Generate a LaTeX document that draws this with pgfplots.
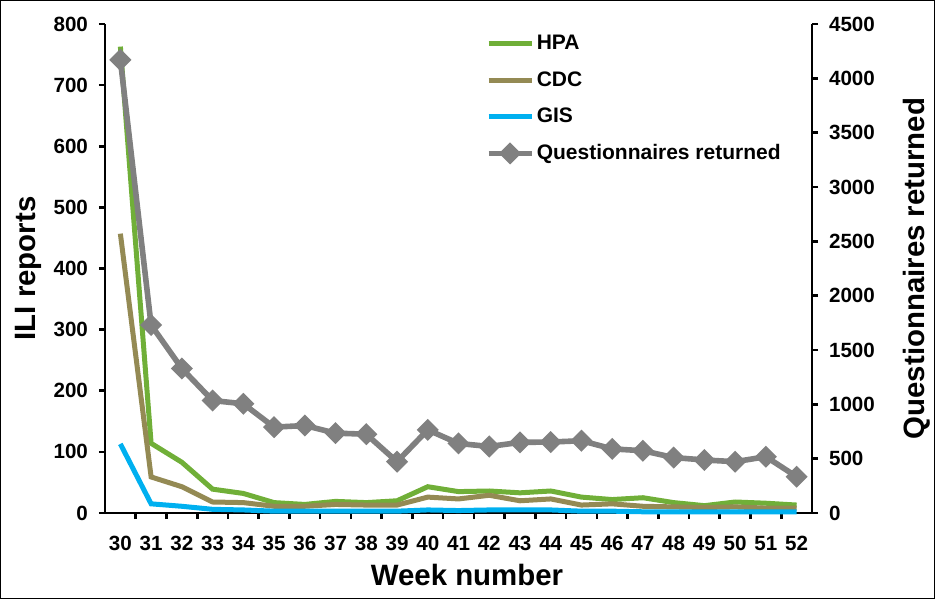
\documentclass[border=0pt]{standalone}
\usepackage{fontspec}
\setmainfont{Liberation Sans}
\usepackage{pgfplots}
\usepackage{pgfplotstable}
\pgfplotsset{compat=1.18}

\definecolor{hpa}{RGB}{112,175,56}
\definecolor{cdc}{RGB}{148,138,84}
\definecolor{gis}{RGB}{0,176,240}
\definecolor{qret}{RGB}{128,128,128}

% week, HPA, CDC, GIS
\pgfplotstableread{
week hpa cdc gis
30 763 457 113
31 114 59 15
32 83 43 11
33 39 18 6
34 32 17 5
35 17 11 3
36 14 11 3
37 19 14 3
38 17 13 3
39 20 13 3
40 43 26 5
41 35 23 4
42 36 29 5
43 33 20 5
44 36 23 5
45 26 13 3
46 22 15 3
47 25 11 2
48 17 10 2
49 12 9 2
50 18 10 2
51 16 8 2
52 13 8 2
}\ilidata

\pgfplotstableread{
week q
30 4170
31 1730
32 1330
33 1035
34 1005
35 790
36 805
37 735
38 725
39 472
40 765
41 640
42 612
43 650
44 653
45 665
46 590
47 573
48 510
49 488
50 472
51 518
52 334
}\qdata

\pgfplotsset{
  common/.style={
    scale only axis, width=353.5pt, height=244.5pt,
    at={(52.5pt,43pt)}, anchor=south west,
    xmin=29.5, xmax=52.5, clip=false,
    axis line style={line width=1.3pt, -},
    tick align=outside,
    tick style={line width=1.3pt, black},
    major tick length=3pt,
    tick label style={font=\bfseries\fontsize{10.3}{11}\selectfont},
    /pgf/number format/assume math mode=true,
    /pgf/number format/1000 sep={},
    label style={font=\bfseries\fontsize{14.7}{16}\selectfont},
    legend image code/.code={
      \draw[mark repeat=2,mark phase=2,#1] plot coordinates {(0pt,0pt)(10.75pt,0pt)(21.5pt,0pt)};
    },
  },
}

\begin{document}
\begin{tikzpicture}
\useasboundingbox (0,0) rectangle (467.5pt,299.5pt);
\draw[line width=0.7pt] (0.35pt,0.35pt) rectangle (467.15pt,299.15pt);

\begin{axis}[
  common,
  ymin=0, ymax=800,
  ytick={0,100,...,800},
  xtick={30,...,52},
  minor xtick={30.5,31.5,...,51.5},
  major x tick style={draw=none},
  minor tick length=3pt,
  minor x tick style={line width=1.3pt, black},
  axis y line*=left, axis x line*=bottom,
  yticklabel style={xshift=-2pt},
  xticklabel style={yshift=-5pt},
  xlabel={Week number},
  ylabel={ILI reports},
  xlabel style={at={(axis description cs:0.512,-0.127)}, anchor=center},
  ylabel style={at={(axis description cs:-0.109,0.5)}, anchor=center, rotate=0},
  legend style={at={(axis description cs:0.538,0.978)}, anchor=north west,
    draw=none, fill=none, font=\bfseries\fontsize{10.5}{12}\selectfont,
    row sep=9.4pt, inner sep=0pt,
    nodes={inner xsep=1.2pt, inner ysep=0pt}},
  legend cell align=left,
]
\addplot[hpa, line width=2.5pt, no marks] table[x=week, y=hpa] {\ilidata};
\addlegendentry{HPA}
\addplot[cdc, line width=2.5pt, no marks] table[x=week, y=cdc] {\ilidata};
\addlegendentry{CDC}
\addplot[gis, line width=2.5pt, no marks] table[x=week, y=gis] {\ilidata};
\addlegendentry{GIS}
\addlegendimage{qret, line width=2.8pt, mark=square*, mark size=2.5pt, mark options={rotate=45, solid}}
\addlegendentry{Questionnaires returned}
\end{axis}

\begin{axis}[
  common,
  ymin=0, ymax=4500,
  ytick={0,500,...,4500},
  axis x line=none,
  axis y line*=right,
  yticklabel style={xshift=2pt},
  ylabel={Questionnaires returned},
  ylabel style={at={(axis description cs:1.1485,0.5)}, anchor=center, rotate=0},
]
\addplot[qret, line width=2.8pt, mark=square*, mark size=2.5pt, mark options={rotate=45, solid}] table[x=week, y=q] {\qdata};
\end{axis}
\end{tikzpicture}
\end{document}
